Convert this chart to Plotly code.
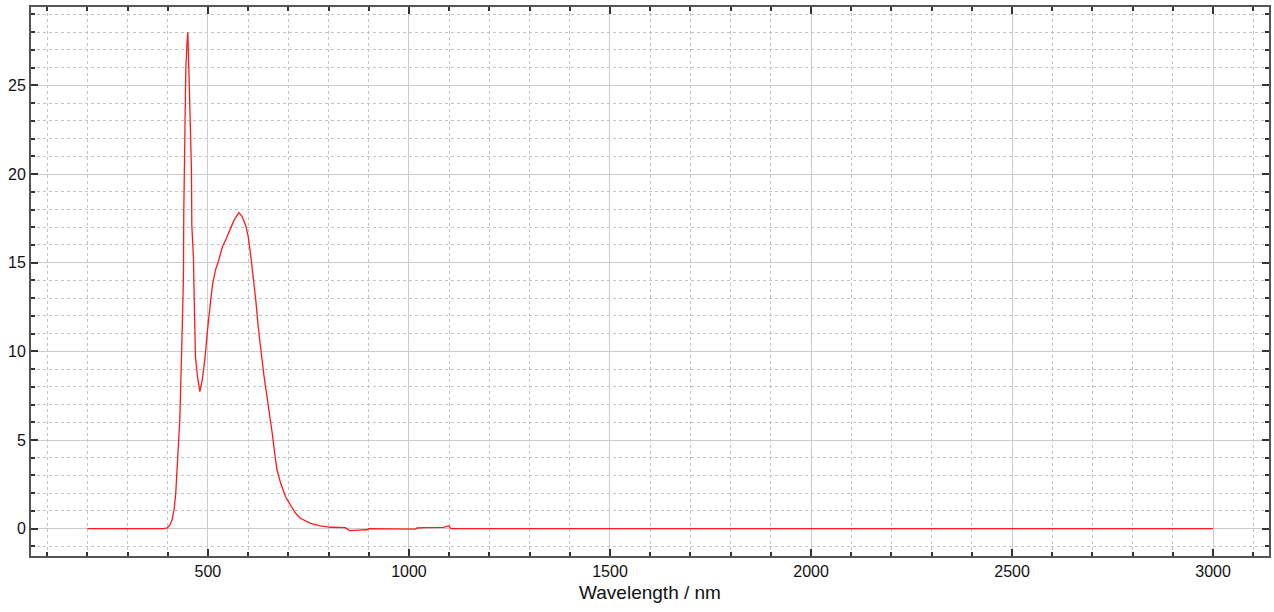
import plotly.graph_objects as go

wavelength = [200, 300, 390, 399, 405, 411, 416, 420, 425, 430, 435, 439, 440, 443, 445, 448, 450,
              452, 455, 459, 460, 464, 465, 469, 474, 480, 486, 493, 499, 503, 507, 512, 519, 527,
              536, 544, 552, 565, 577, 585, 594, 600, 606, 612, 619, 625, 631, 639, 644, 648, 652,
              660, 666, 672, 681, 693, 705, 718, 730, 755, 780, 805, 842, 848, 852, 875, 896, 900,
              1004, 1010, 1016, 1020, 1037, 1086, 1099, 1104, 1500, 2000, 2500, 3000]
intensity = [0, 0, 0, 0.05, 0.2, 0.5, 1.1, 2.0, 4.0, 6.1, 10.3, 14.0, 17.9, 22.7, 25.9, 27.4, 28.0,
             26.4, 23.3, 20.3, 17.1, 15.3, 14.0, 9.7, 8.57, 7.73, 8.39, 9.7, 11.2, 12.15, 12.9, 13.84,
             14.6, 15.15, 15.9, 16.28, 16.75, 17.4, 17.82, 17.6, 17.1, 16.5, 15.5, 14.4, 12.9, 11.4,
             10.08, 8.7, 7.9, 7.3, 6.7, 5.38, 4.25, 3.31, 2.56, 1.8, 1.34, 0.87, 0.59, 0.30, 0.16,
             0.08, 0.06, -0.05, -0.11, -0.08, -0.06, 0, 0, -0.03, -0.03, 0.04, 0.06, 0.07, 0.17, 0.0,
             0, 0, 0, 0]

x_title = "Wavelength / nm"
FONT = "Liberation Sans, Arial, sans-serif"

fig = go.Figure()
fig.add_trace(go.Scatter(x=wavelength, y=intensity, mode="lines",
                         line=dict(color="#ff1a1a", width=1.3), showlegend=False,
                         hoverinfo="skip"))

axis_common = dict(
    showline=True, linecolor="#555555", linewidth=2, mirror="ticks",
    ticks="inside", ticklen=7, tickwidth=1.5, tickcolor="#333333",
    showgrid=True, gridcolor="#cccccc", gridwidth=1, zeroline=False,
    automargin=False,
    tickfont=dict(family=FONT, size=16, color="#111111"),
)

fig.update_xaxes(
    range=[60, 3139], tick0=0, dtick=500,
    minor=dict(dtick=100, ticks="inside", ticklen=4, tickcolor="#333333",
               showgrid=True, gridcolor="#c4c4c4", griddash="3px,3px", gridwidth=1),
    title=dict(text=x_title, font=dict(family=FONT, size=19, color="#111111"), standoff=6),
    **axis_common,
)
fig.update_yaxes(
    range=[-1.54, 29.42], tick0=0, dtick=5,
    minor=dict(dtick=1, ticks="inside", ticklen=4, tickcolor="#333333",
               showgrid=True, gridcolor="#c4c4c4", griddash="3px,3px", gridwidth=1),
    **axis_common,
)

fig.update_layout(
    width=1274, height=612,
    margin=dict(l=31, r=5, t=7, b=56),
    paper_bgcolor="white", plot_bgcolor="white",
)

fig.write_html(
    "out.html",
    config={"responsive": False, "displayModeBar": False},
    default_width="1274px", default_height="612px",
    post_script="document.body.style.margin='0';document.body.style.overflow='hidden';",
)
